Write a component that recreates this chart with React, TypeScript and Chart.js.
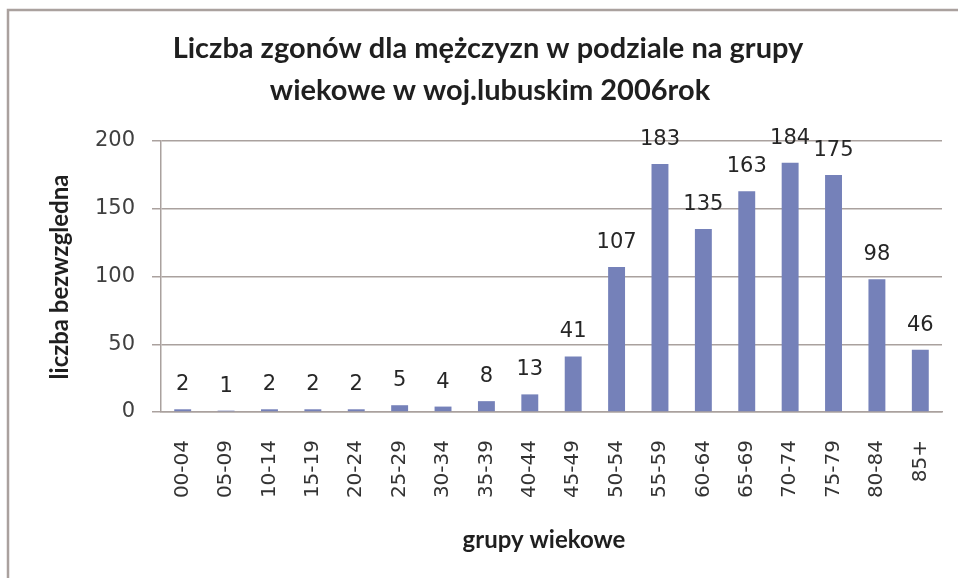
import React, { useEffect, useRef } from "react";
import { Chart, registerables } from "chart.js";

Chart.register(...registerables);

const categories = ["00-04", "05-09", "10-14", "15-19", "20-24", "25-29", "30-34", "35-39", "40-44", "45-49", "50-54", "55-59", "60-64", "65-69", "70-74", "75-79", "80-84", "85+"];
const deaths = [2, 1, 2, 2, 2, 5, 4, 8, 13, 41, 107, 183, 135, 163, 184, 175, 98, 46];
const titleLines = ["Liczba zgonów dla mężczyzn w podziale na grupy", "wiekowe w woj.lubuskim 2006rok"];
const xTitle = "grupy wiekowe";
const yTitle = "liczba bezwzgledna";
const yMin = 0;
const yMax = 200;
const yStep = 50;

const W = 958;
const H = 578;

const decorPlugin = {
  id: "decor",
  beforeDraw(chart: any) {
    const ctx = chart.ctx;
    ctx.save();
    ctx.fillStyle = "#ffffff";
    ctx.fillRect(0, 0, W, H);
    ctx.strokeStyle = "#aaa19e";
    ctx.lineWidth = 2.5;
    ctx.beginPath();
    ctx.moveTo(8, H);
    ctx.lineTo(8, 10);
    ctx.lineTo(W, 10);
    ctx.stroke();
    ctx.restore();
  },
  afterDraw(chart: any) {
    const ctx = chart.ctx;
    ctx.save();
    ctx.fillStyle = "#1f1f1f";
    ctx.textAlign = "center";
    ctx.textBaseline = "middle";
    ctx.font = "bold 29px Lato";
    ctx.fillText(titleLines[0], 488, 49);
    ctx.fillText(titleLines[1], 490, 91);

    ctx.font = "bold 24px Lato";
    ctx.fillText(xTitle, 544, 540);

    ctx.translate(60, 277);
    ctx.rotate(-Math.PI / 2);
    ctx.fillText(yTitle, 0, 0);
    ctx.restore();

    // data labels
    const meta = chart.getDatasetMeta(0);
    ctx.save();
    ctx.fillStyle = "#262626";
    ctx.font = "21px 'DejaVu Sans'";
    ctx.textAlign = "center";
    ctx.textBaseline = "alphabetic";
    meta.data.forEach((bar: any, i: number) => {
      const v = chart.data.datasets[0].data[i];
      ctx.fillText(String(v), bar.x, bar.y - 19);
    });
    ctx.restore();
  },
};

export default function App() {
  const ref = useRef<HTMLCanvasElement | null>(null);
  useEffect(() => {
    if (!ref.current) return;
    const chart = new Chart(ref.current, {
      type: "bar",
      data: {
        labels: categories,
        datasets: [
          {
            data: deaths,
            backgroundColor: "#7581b9",
            borderWidth: 0,
            barPercentage: 0.39,
            categoryPercentage: 1,
          },
        ],
      },
      options: {
        responsive: false,
        animation: false,
        devicePixelRatio: 1,
        layout: { padding: { left: 0, top: 141, right: 16, bottom: 0 } },
        plugins: {
          legend: { display: false },
          title: { display: false },
          tooltip: { enabled: false },
        },
        scales: {
          x: {
            grid: { display: false, drawTicks: false },
            border: { display: true, color: "#aaa19e", width: 1.5 },
            ticks: {
              minRotation: 90,
              maxRotation: 90,
              autoSkip: false,
              padding: 28,
              color: "#333333",
              font: { family: "DejaVu Sans", size: 20 },
            },
            afterFit(scale: any) {
              scale.height = H - 412;
              scale.paddingLeft = 0;
              scale.paddingRight = 0;
            },
          },
          y: {
            min: yMin,
            max: yMax,
            grid: { color: "#aaa19e", lineWidth: 1.5, tickLength: 9, drawTicks: true },
            border: { display: true, color: "#aaa19e", width: 1.5 },
            ticks: {
              stepSize: yStep,
              padding: 17,
              color: "#404040",
              font: { family: "DejaVu Sans", size: 21 },
            },
            afterFit(scale: any) {
              scale.width = 161;
            },
          },
        },
      },
      plugins: [decorPlugin],
    });
    return () => chart.destroy();
  }, []);
  return (
    <div style={{ position: "absolute", left: 0, top: 0, width: W, height: H }}>
      <canvas ref={ref} width={W} height={H} style={{ display: "block" }} />
    </div>
  );
}
